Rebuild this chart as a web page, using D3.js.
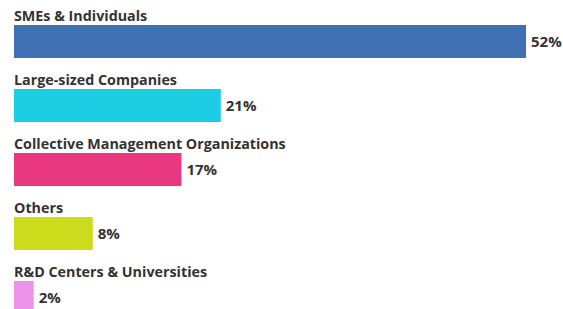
<!DOCTYPE html>
<html>
<head>
<meta charset="utf-8">
<script src="https://cdn.jsdelivr.net/npm/d3@7"></script>
<style>
  body { margin: 0; background: #fff; }
  svg { display: block; }
  text { font-family: "Open Sans", "Noto Sans", sans-serif; fill: #333; }
</style>
</head>
<body>
<svg id="chart" width="563" height="309"></svg>
<script>
const categories = ['SMEs & Individuals', 'Large-sized Companies', 'Collective Management Organizations', 'Others', 'R&D Centers & Universities'];
const shares = [52, 21, 17, 8, 2];
const colors = ['#4070b4', '#1ccde3', '#e9387f', '#ccdb1c', '#ee92ea'];

const svg = d3.select('#chart');

const x = d3.scaleLinear()
  .domain([0, 52])
  .range([14, 526]);

// each row = label on top, bar below
const y = d3.scaleBand()
  .domain(categories)
  .range([0, 320])
  .paddingInner(0);

const barTop = 25, barH = 33;

const data = categories.map((c, i) => ({name: c, value: shares[i], color: colors[i]}));

const row = svg.selectAll('g.row')
  .data(data)
  .join('g')
  .attr('class', 'row')
  .attr('transform', d => `translate(0,${y(d.name)})`);

row.append('text')
  .attr('x', 14)
  .attr('y', barTop - 4)
  .attr('font-size', 14.3)
  .attr('font-weight', 700)
  .text(d => d.name);

row.append('rect')
  .attr('x', x(0))
  .attr('y', barTop)
  .attr('width', d => x(d.value) - x(0))
  .attr('height', barH)
  .attr('fill', d => d.color);

row.append('text')
  .attr('x', d => x(d.value) + 5)
  .attr('y', barTop + barH / 2)
  .attr('dy', '0.35em')
  .attr('font-size', 15)
  .attr('font-weight', 700)
  .text(d => d.value + '%');
</script>
</body>
</html>
